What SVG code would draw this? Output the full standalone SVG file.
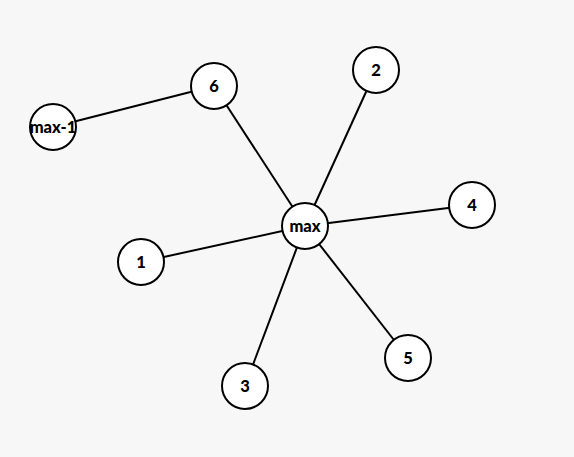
<svg xmlns="http://www.w3.org/2000/svg" width="574" height="457" viewBox="0 0 574 457">
<style>
.n circle{fill:#fff;stroke:#000;stroke-width:2}
.n text{font-family:Lato,"Liberation Sans",sans-serif;font-weight:900;font-size:16.5px;text-anchor:middle;dominant-baseline:central;fill:#000}
.e line{stroke:#000;stroke-width:2}
</style>
<rect width="574" height="457" fill="#f7f7f7"/>
<g class="e" id="edges">
<line x1="53" y1="127" x2="214" y2="86"/>
<line x1="214" y1="86" x2="305" y2="226"/>
<line x1="376" y1="70" x2="305" y2="226"/>
<line x1="472" y1="205" x2="305" y2="226"/>
<line x1="141" y1="262" x2="305" y2="226"/>
<line x1="245" y1="386" x2="305" y2="226"/>
<line x1="408" y1="358" x2="305" y2="226"/>
</g>
<g class="n" id="node-max-1"><circle cx="53" cy="127" r="23"/><text x="53" y="127">max-1</text></g>
<g class="n" id="node-6"><circle cx="214" cy="86" r="23"/><text x="214" y="86">6</text></g>
<g class="n" id="node-2"><circle cx="376" cy="70" r="23"/><text x="376" y="70">2</text></g>
<g class="n" id="node-4"><circle cx="472" cy="205" r="23"/><text x="472" y="205">4</text></g>
<g class="n" id="node-max"><circle cx="305" cy="226" r="23"/><text x="305" y="226">max</text></g>
<g class="n" id="node-1"><circle cx="141" cy="262" r="23"/><text x="141" y="262">1</text></g>
<g class="n" id="node-3"><circle cx="245" cy="386" r="23"/><text x="245" y="386">3</text></g>
<g class="n" id="node-5"><circle cx="408" cy="358" r="23"/><text x="408" y="358">5</text></g>
</svg>
